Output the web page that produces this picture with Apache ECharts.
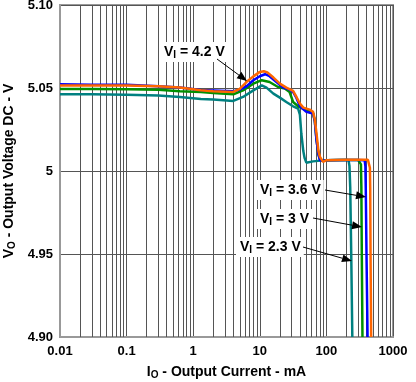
<!DOCTYPE html>
<html>
<head>
<meta charset="utf-8">
<script src="https://cdn.jsdelivr.net/npm/echarts@6/dist/echarts.min.js"></script>
<style>html,body{margin:0;padding:0;background:#fff}#c{width:416px;height:382px}</style>
</head>
<body>
<div id="c"></div>
<script>
// ---- data (I_O in mA, V_O in V) ----
var xTickLabels = ['0.01', '0.1', '1', '10', '100', '1000'];
var yTickLabels = ['4.90', '4.95', '5', '5.05', '5.10'];

var cur23 = [0.01, 0.03, 0.1, 0.3, 0.63, 1.3, 2, 4, 5.6, 8, 10.7, 12.6, 16, 20, 25, 31.6, 37.6, 40, 42, 45, 47, 50, 53, 63, 89, 100, 150, 200, 215, 222, 228, 236, 245];
var vo23  = [5.0462, 5.0462, 5.046, 5.0455, 5.0446, 5.0434, 5.043, 5.0422, 5.0446, 5.0486, 5.0516, 5.0502, 5.0466, 5.0442, 5.0416, 5.039, 5.0376, 5.034, 5.0226, 5.012, 5.008, 5.005, 5.0044, 5.0058, 5.0064, 5.0065, 5.0066, 5.0066, 5.0065, 5.003, 4.99, 4.95, 4.90];

var cur30 = [0.01, 0.03, 0.1, 0.3, 0.63, 1.3, 2, 4, 5.6, 8, 10.7, 14, 18.8, 23.7, 28, 31.6, 37.6, 50, 63, 67, 71, 76, 80, 89, 100, 200, 300, 320, 330, 335, 340, 348];
var vo30  = [5.0494, 5.0494, 5.0492, 5.049, 5.048, 5.0476, 5.047, 5.0462, 5.0486, 5.0526, 5.0547, 5.0536, 5.0506, 5.0497, 5.0476, 5.0416, 5.039, 5.0366, 5.035, 5.030, 5.019, 5.010, 5.007, 5.0062, 5.0065, 5.0066, 5.0066, 5.0064, 5.004, 4.99, 4.95, 4.90];

var cur36 = [0.01, 0.03, 0.1, 0.3, 0.63, 1.3, 2, 4, 5, 6.3, 8, 10, 12, 14, 17.8, 22.4, 28, 31.6, 35.5, 40, 50, 63, 67, 71, 76, 80, 89, 100, 200, 300, 375, 385, 390, 400, 415];
var vo36  = [5.0522, 5.052, 5.0519, 5.051, 5.0503, 5.0488, 5.0485, 5.048, 5.049, 5.051, 5.0547, 5.0571, 5.0583, 5.0571, 5.0536, 5.0502, 5.049, 5.0476, 5.044, 5.039, 5.0356, 5.0346, 5.030, 5.0185, 5.010, 5.0065, 5.0062, 5.0065, 5.0066, 5.0066, 5.0065, 5.003, 4.99, 4.95, 4.90];

var cur42 = [0.01, 0.03, 0.1, 0.3, 0.63, 1.3, 2, 4, 5, 6.3, 8, 10, 11.5, 13, 16, 20, 25, 31.6, 35.5, 40, 45, 56, 63, 67, 71, 76, 80, 89, 100, 200, 300, 420, 440, 450, 455, 460, 470];
var vo42  = [5.0515, 5.0515, 5.0515, 5.051, 5.0503, 5.0486, 5.048, 5.0476, 5.0495, 5.0536, 5.057, 5.0597, 5.0601, 5.0594, 5.0563, 5.0526, 5.0502, 5.0482, 5.0446, 5.0406, 5.0382, 5.037, 5.0356, 5.031, 5.0227, 5.012, 5.0085, 5.0055, 5.0065, 5.0068, 5.0068, 5.0068, 5.006, 5.002, 4.99, 4.95, 4.90];

function pairs(xs, ys) { return xs.map(function (x, i) { return [x, ys[i]]; }); }

// minor log grid lines (2..9 per decade)
var minorGrid = [];
[0.01, 0.1, 1, 10, 100].forEach(function (d) {
  for (var k = 2; k <= 9; k++) minorGrid.push({ xAxis: +(d * k).toPrecision(3) });
});

var FONT = '"Liberation Sans", Arial, sans-serif';
var chart = echarts.init(document.getElementById('c'), null, { renderer: 'canvas' });

function mkSeries(name, data, color) {
  return {
    name: name, type: 'line', data: data, showSymbol: false, symbol: 'none',
    lineStyle: { color: color, width: 2.5 }, z: 5, animation: false
  };
}

function arrow(x1, y1, x2, y2) {
  var dx = x2 - x1, dy = y2 - y1, L = Math.sqrt(dx * dx + dy * dy);
  var ux = dx / L, uy = dy / L, hl = 10, hw = 4;
  var bx = x2 - ux * hl, by = y2 - uy * hl;
  return [
    { type: 'line', z: 20, shape: { x1: x1, y1: y1, x2: bx, y2: by }, style: { stroke: '#000', lineWidth: 1 } },
    { type: 'polygon', z: 20, shape: { points: [[x2, y2], [bx - uy * hw, by + ux * hw], [bx + uy * hw, by - ux * hw]] }, style: { fill: '#000' } }
  ];
}

var richName = {
  m: { fontFamily: FONT, fontSize: 14, fontWeight: 'bold', color: '#000', lineHeight: 16 },
  s: { fontFamily: FONT, fontSize: 10, fontWeight: 'bold', color: '#000', verticalAlign: 'bottom', lineHeight: 16, padding: [7, 0, 0, 0] }
};
function label(x, y, v) {
  return {
    type: 'text', z: 19, x: x, y: y,
    style: {
      text: '{m|V}{s|I}{m| = ' + v + ' V}', rich: richName,
      align: 'left', verticalAlign: 'middle',
      backgroundColor: '#fff', padding: [2, 3, 2, 4]
    }
  };
}

var graphics = [].concat(
  label(160, 52, '4.2'), arrow(217, 59, 247, 81),
  label(256, 190, '3.6'), arrow(325, 190, 366, 197),
  label(256, 219, '3'), arrow(313, 218, 362, 227),
  label(236, 247, '2.3'), arrow(303, 247, 352, 261)
);

chart.setOption({
  animation: false,
  backgroundColor: '#fff',
  grid: {
    left: 60, right: 23, top: 5, bottom: 45, containLabel: false, outerBoundsMode: 'none',
    show: true, borderColor: '#999', borderWidth: 2, backgroundColor: 'transparent'
  },
  xAxis: {
    type: 'log', logBase: 10, min: 0.01, max: 1000,
    name: '{m|I}{s|O}{m| - Output Current - mA}',
    nameLocation: 'middle', nameGap: 21,
    nameTextStyle: { rich: richName },
    axisLine: { show: true, lineStyle: { color: '#999', width: 2 } },
    axisTick: { show: false },
    axisLabel: {
      margin: 8, fontFamily: FONT, fontSize: 13, fontWeight: 'bold', color: '#000',
      formatter: function (v) { return xTickLabels[Math.round(Math.log10(v)) + 2]; }
    },
    splitLine: { show: true, lineStyle: { color: '#555', width: 1 } }
  },
  yAxis: {
    type: 'value', min: 4.9, max: 5.1, interval: 0.05,
    name: '{m|V}{s|O}{m| - Output Voltage DC - V}',
    nameLocation: 'middle', nameGap: 40, nameRotate: 90,
    nameTextStyle: { rich: richName },
    axisLine: { show: true, lineStyle: { color: '#999', width: 2 } },
    axisTick: { show: false },
    axisLabel: {
      margin: 7, fontFamily: FONT, fontSize: 13, fontWeight: 'bold', color: '#000',
      formatter: function (v) { return yTickLabels[Math.round((v - 4.9) / 0.05)]; }
    },
    splitLine: { show: true, lineStyle: { color: '#555', width: 1 } }
  },
  series: [
    {
      name: 'grid', type: 'line', data: [], z: 1, silent: true,
      markLine: {
        silent: true, symbol: ['none', 'none'], label: { show: false },
        lineStyle: { color: '#555', width: 1, type: 'solid' }, animation: false,
        data: minorGrid
      }
    },
    mkSeries('VI = 2.3 V', pairs(cur23, vo23), '#008080'),
    mkSeries('VI = 3 V', pairs(cur30, vo30), '#009000'),
    mkSeries('VI = 3.6 V', pairs(cur36, vo36), '#0000ff'),
    mkSeries('VI = 4.2 V', pairs(cur42, vo42), '#ff6600')
  ],
  graphic: graphics
});
</script>
</body>
</html>
